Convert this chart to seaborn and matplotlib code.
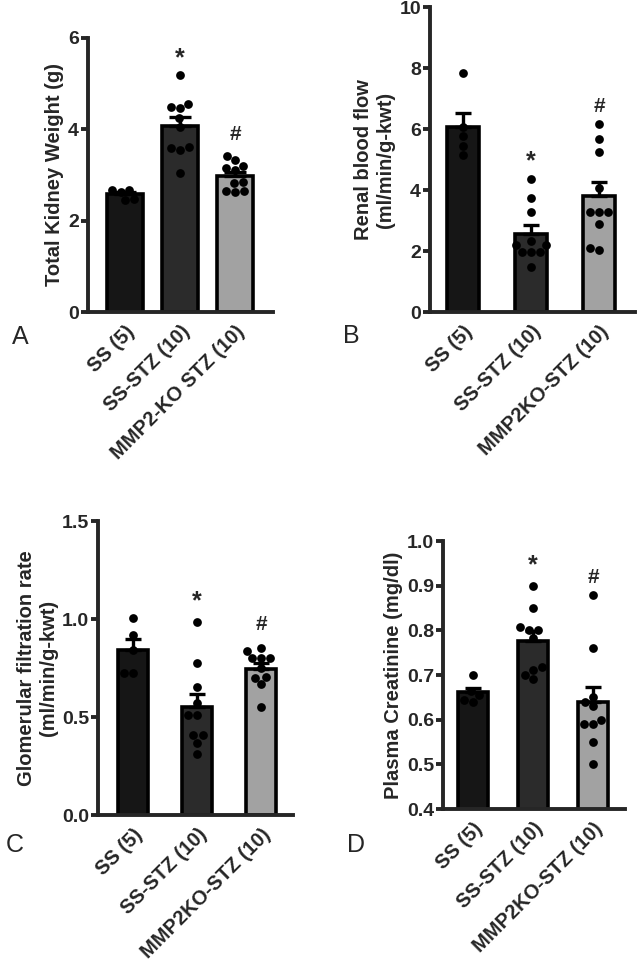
import numpy as np
import pandas as pd
import matplotlib
matplotlib.use('Agg')
import matplotlib.pyplot as plt
from matplotlib.ticker import FormatStrFormatter
import seaborn as sns

sns.set_style('ticks')
plt.rcParams['font.family'] = ['Liberation Sans', 'DejaVu Sans']
plt.rcParams['font.weight'] = 'bold'
plt.rcParams['axes.labelweight'] = 'bold'

groups = ['SS', 'SS-STZ', 'MMP2KO-STZ']
labels_a = ['SS (5)', 'SS-STZ (10)', 'MMP2-KO STZ (10)']
labels_bcd = ['SS (5)', 'SS-STZ (10)', 'MMP2KO-STZ (10)']
bar_colors = ['#161616', '#2b2b2b', '#a2a2a2']

# A - total kidney weight (g)
kidney_ss = [2.68, 2.68, 2.62, 2.47, 2.45]
kidney_stz = [5.2, 4.48, 4.55, 4.46, 4.24, 4.05, 3.62, 3.55, 3.6, 3.05]
kidney_ko = [3.42, 3.33, 3.2, 3.15, 3.1, 2.82, 2.85, 2.65, 2.63, 2.65]

# B - renal blood flow
rbf_ss = [7.85, 6.08, 5.78, 5.45, 5.15]
rbf_stz = [4.36, 3.75, 3.27, 2.34, 2.2, 2.2, 1.98, 1.98, 1.98, 1.49]
rbf_ko = [6.17, 5.67, 5.26, 4.08, 3.27, 3.27, 3.27, 2.88, 2.04, 2.09]

# C - GFR
gfr_ss = [1.005, 0.92, 0.84, 0.725, 0.725]
gfr_stz = [0.986, 0.777, 0.655, 0.57, 0.51, 0.51, 0.408, 0.408, 0.367, 0.31]
gfr_ko = [0.854, 0.837, 0.80, 0.80, 0.80, 0.75, 0.706, 0.70, 0.668, 0.553]

# D - plasma creatinine
cr_ss = [0.70, 0.665, 0.655, 0.645, 0.64]
cr_stz = [0.90, 0.85, 0.808, 0.80, 0.80, 0.783, 0.711, 0.717, 0.70, 0.69]
cr_ko = [0.88, 0.76, 0.65, 0.64, 0.63, 0.60, 0.59, 0.59, 0.55, 0.50]


def panel(ax, ss, stz, ko, ylim, yticks, ylabel, xlabels, marks, width, xlim, capsize, fmt=None):
    df = pd.DataFrame({'group': [groups[0]] * len(ss) + [groups[1]] * len(stz) + [groups[2]] * len(ko),
                       'value': ss + stz + ko})
    sns.barplot(data=df, x='group', y='value', hue='group', palette=bar_colors, errorbar=None,
                width=width, edgecolor='black', linewidth=2.6, ax=ax, legend=False, zorder=1)
    sns.swarmplot(data=df, x='group', y='value', color='black', size=6.3, ax=ax, zorder=3)
    stats = df.groupby('group', sort=False)['value'].agg(['mean', 'sem'])
    ax.errorbar(range(3), stats['mean'], yerr=[np.zeros(3), stats['sem']], fmt='none',
                ecolor='black', elinewidth=2.4, capsize=capsize, capthick=2.4, zorder=4)
    ax.text(1, marks[0], '*', ha='center', va='center', fontsize=18, fontweight='bold')
    ax.text(2, marks[1], '#', ha='center', va='center', fontsize=15, fontweight='bold')

    ax.set_ylim(ylim)
    ax.set_xlim(xlim)
    ax.set_yticks(yticks)
    if fmt:
        ax.yaxis.set_major_formatter(FormatStrFormatter(fmt))
    ax.set_xticks(range(3))
    ax.set_xticklabels(xlabels, rotation=45, ha='right', rotation_mode='anchor')
    ax.set_xlabel('')
    ax.set_ylabel(ylabel, fontsize=14.5, fontweight='bold', labelpad=3)
    for s in ['left', 'bottom']:
        ax.spines[s].set_linewidth(2.8)
    sns.despine(ax=ax)
    ax.tick_params(axis='y', length=5, width=2.8, labelsize=14, pad=1.5)
    ax.tick_params(axis='x', length=0, labelsize=14.5, pad=7)
    for t in ax.get_xticklabels() + ax.get_yticklabels():
        t.set_fontweight('bold')


fig = plt.figure(figsize=(6.37, 9.75), dpi=100)
W, H = 637.0, 975.0


def add(x0, x1, y0, y1):
    return fig.add_axes([x0 / W, 1 - y1 / H, (x1 - x0) / W, (y1 - y0) / H])


ax_a = add(88, 273, 38, 312)
ax_b = add(430, 635, 7, 312)
ax_c = add(98, 293, 521, 815)
ax_d = add(443, 625, 541, 809)

panel(ax_a, kidney_ss, kidney_stz, kidney_ko, (0, 6), [0, 2, 4, 6],
      'Total Kidney Weight (g)', labels_a, (5.56, 3.88), 0.64, (-0.67, 2.69), 8)
panel(ax_b, rbf_ss, rbf_stz, rbf_ko, (0, 10), [0, 2, 4, 6, 8, 10],
      'Renal blood flow\n(ml/min/g-kwt)', labels_bcd, (4.94, 6.74), 0.47, (-0.49, 2.53), 6)
panel(ax_c, gfr_ss, gfr_stz, gfr_ko, (0, 1.5), [0, 0.5, 1.0, 1.5],
      'Glomerular filtration rate\n(ml/min/g-kwt)', labels_bcd, (1.088, 0.97), 0.47, (-0.55, 2.5), 6, '%.1f')
panel(ax_d, cr_ss, cr_stz, cr_ko, (0.4, 1.0), [0.4, 0.5, 0.6, 0.7, 0.8, 0.9, 1.0],
      'Plasma Creatinine (mg/dl)', labels_bcd, (0.946, 0.919), 0.5, (-0.5, 2.53), 6, '%.1f')

for letter, x, y in [('A', 20, 337), ('B', 351, 336), ('C', 15, 845), ('D', 356, 845)]:
    fig.text(x / W, 1 - y / H, letter, fontsize=18, fontweight='normal', ha='center', va='center')

fig.savefig('out.png', dpi=100)
